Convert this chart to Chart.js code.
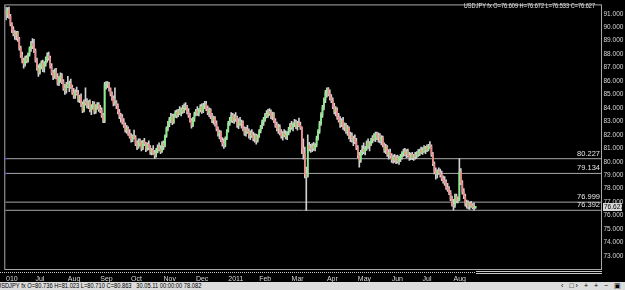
<!DOCTYPE html>
<html>
<head>
<meta charset="utf-8">
<script src="https://cdn.jsdelivr.net/npm/chart.js@4.4.1/dist/chart.umd.min.js"></script>
<style>
  html, body { margin: 0; padding: 0; background: #000; }
  #wrap { position: relative; width: 625px; height: 290px; overflow: hidden; background: #000; }
  #c { position: absolute; left: 0; top: 0; }
  .small { position: absolute; font-family: "Liberation Sans", Arial, sans-serif; font-size: 7px; line-height: 8px; white-space: nowrap; }
  #head { top: 2px; right: 30px; color: #e8e8e8; transform: scaleX(0.8); transform-origin: right top; }
  #status { position: absolute; left: 0; top: 282px; width: 625px; height: 8px; background: #dcdcdc; }
  #statusText { left: -3px; top: 0; color: #000; transform: scaleX(0.82); transform-origin: left top; }
  #btns { right: 2px; top: 0; color: #000; letter-spacing: 2px; }
</style>
</head>
<body>
<div id="wrap">
  <canvas id="c" width="625" height="290"></canvas>
  <div id="head" class="small">USDJPY fx O=76.609 H=76.672 L=76.533 C=76.627</div>
  <div id="status">
    <div id="statusText" class="small">USDJPY fx O=80.736 H=81.023 L=80.710 C=80.863 &nbsp; 30.05.11 00:00:00 78.082</div>
    <div id="btns" class="small">&lsaquo; &#9633;&rsaquo; + + &minus; &#9635;</div>
  </div>
</div>
<script>
// ── Données OHLC journalières ─────────────────────────────────────────
const opens = [
  91.20, 90.95, 91.30, 90.80, 90.25, 89.80, 89.50, 89.40, 89.60, 89.15,
  88.45, 87.90, 87.55, 87.25, 87.70, 87.50, 88.00, 88.45, 88.80, 88.60,
  88.25, 87.55, 86.95, 86.60, 87.15, 87.35, 86.90, 87.30, 87.65, 87.90,
  87.70, 87.10, 86.60, 86.30, 86.75, 86.25, 85.85, 86.20, 86.40, 85.95,
  85.45, 85.30, 85.75, 85.60, 85.85, 85.55, 85.15, 84.90, 85.20, 85.05,
  84.60, 84.80, 84.25, 83.80, 84.50, 84.35, 84.20, 84.45, 83.85, 84.10,
  84.30, 83.75, 84.15, 84.25, 83.90, 83.80, 83.45, 83.00, 85.70, 85.75,
  85.80, 85.40, 85.05, 84.70, 84.35, 84.40, 84.15, 83.70, 83.40, 83.30,
  82.95, 82.70, 82.35, 82.50, 82.05, 81.85, 81.65, 81.90, 81.80, 81.35,
  81.10, 81.55, 81.40, 81.00, 81.50, 81.35, 80.95, 81.30, 81.05, 80.70,
  80.90, 80.65, 80.45, 80.85, 81.10, 80.95, 80.75, 81.35, 81.20, 81.90,
  82.50, 82.80, 83.15, 83.40, 82.95, 83.40, 83.65, 83.45, 83.80, 83.60,
  83.90, 83.75, 84.15, 84.05, 83.70, 83.45, 83.05, 82.70, 83.20, 83.55,
  83.80, 83.60, 83.85, 84.10, 83.75, 84.20, 84.30, 83.95, 83.65, 83.85,
  83.40, 83.05, 83.25, 82.80, 82.45, 82.05, 82.20, 81.60, 81.35, 81.20,
  81.75, 82.30, 82.85, 83.10, 83.45, 83.05, 83.35, 83.20, 82.70, 83.00,
  82.85, 82.95, 82.45, 82.10, 82.40, 82.25, 81.90, 82.15, 81.95, 81.70,
  81.95, 81.55, 81.90, 82.30, 82.60, 82.95, 83.15, 83.50, 83.40, 83.75,
  83.60, 83.35, 83.55, 83.05, 82.70, 82.45, 82.60, 82.15, 81.90, 82.10,
  82.00, 81.85, 82.15, 82.40, 82.75, 82.55, 82.80, 82.95, 82.60, 82.85,
  82.70, 82.55, 81.00, 80.60, 79.10, 78.90, 81.20, 81.00, 80.95, 81.20,
  81.00, 81.25, 81.75, 82.25, 82.85, 83.50, 84.05, 84.60, 85.10, 85.40,
  85.05, 84.75, 84.55, 84.10, 83.70, 83.90, 83.30, 83.10, 82.75, 83.05,
  82.55, 82.70, 82.25, 82.50, 81.85, 81.95, 81.60, 81.70, 81.50, 81.05,
  80.45, 80.10, 80.70, 80.95, 80.75, 81.00, 81.40, 81.15, 81.35, 81.60,
  81.80, 81.70, 82.05, 81.80, 81.95, 81.55, 81.80, 81.25, 80.85, 81.10,
  80.55, 80.70, 80.45, 80.15, 80.35, 80.10, 80.30, 80.05, 80.25, 80.40,
  80.60, 80.75, 80.55, 80.80, 80.45, 80.30, 80.55, 80.30, 80.45, 80.40,
  80.65, 80.55, 80.85, 80.70, 80.95, 80.80, 81.05, 80.90, 81.20, 81.15,
  80.55, 79.85, 79.25, 79.10, 79.30, 79.20, 79.05, 78.75, 78.60, 78.45,
  78.10, 77.95, 77.70, 77.25, 76.80, 76.75, 77.45, 77.10, 77.20, 79.25,
  78.45, 77.80, 77.45, 76.85, 76.95, 76.65, 76.90, 76.75, 76.60, 76.609
];
const highs = [
  91.50, 91.45, 91.50, 90.95, 90.35, 90.05, 89.75, 89.70, 89.70, 89.25,
  88.60, 88.15, 87.70, 87.85, 87.90, 88.10, 88.55, 88.95, 89.15, 89.10,
  88.40, 87.70, 87.20, 87.30, 87.50, 87.55, 87.45, 87.80, 88.10, 88.15,
  87.85, 87.30, 86.80, 86.90, 86.95, 86.55, 86.35, 86.60, 86.55, 86.10,
  85.75, 85.90, 86.35, 86.00, 86.15, 85.70, 85.45, 85.35, 85.55, 85.30,
  84.95, 85.05, 84.45, 84.60, 85.50, 84.70, 84.55, 84.60, 84.25, 84.50,
  84.45, 84.25, 84.40, 84.40, 84.20, 84.00, 83.60, 85.90, 85.95, 85.95,
  85.90, 85.50, 85.20, 84.90, 85.50, 84.55, 84.30, 83.90, 83.60, 83.50,
  83.20, 82.90, 82.70, 82.60, 82.40, 82.10, 82.00, 82.35, 81.95, 81.55,
  81.70, 81.70, 81.55, 81.60, 81.75, 81.45, 81.40, 81.55, 81.20, 81.00,
  81.20, 80.85, 81.00, 81.25, 81.40, 81.20, 81.50, 81.55, 82.00, 82.60,
  83.00, 83.30, 83.60, 83.55, 83.55, 83.80, 83.85, 83.90, 84.10, 84.00,
  84.20, 84.30, 84.40, 84.20, 83.95, 83.60, 83.20, 83.30, 83.70, 83.90,
  84.10, 83.95, 84.25, 84.30, 84.35, 84.50, 84.50, 84.15, 84.00, 83.95,
  83.60, 83.40, 83.35, 83.05, 82.60, 82.35, 82.30, 81.80, 81.70, 81.85,
  82.40, 83.00, 83.30, 83.65, 83.60, 83.50, 83.65, 83.40, 83.20, 83.30,
  83.10, 83.05, 82.60, 82.55, 82.70, 82.45, 82.30, 82.40, 82.20, 82.10,
  82.05, 82.00, 82.40, 82.70, 83.10, 83.30, 83.60, 83.80, 83.90, 83.95,
  83.85, 83.70, 83.65, 83.20, 82.95, 82.80, 82.75, 82.40, 82.25, 82.40,
  82.30, 82.25, 82.55, 82.85, 83.00, 82.90, 83.15, 83.10, 83.00, 83.25,
  82.95, 82.60, 81.70, 81.10, 79.60, 82.00, 81.45, 81.30, 81.35, 81.45,
  81.35, 81.90, 82.40, 83.00, 83.65, 84.20, 84.75, 85.30, 85.50, 85.52,
  85.35, 85.00, 84.75, 84.35, 84.10, 84.00, 83.60, 83.35, 83.20, 83.30,
  82.90, 82.85, 82.70, 82.60, 82.20, 82.15, 81.90, 82.00, 81.75, 81.20,
  80.70, 80.85, 81.20, 81.40, 81.15, 81.55, 81.70, 81.50, 81.75, 81.95,
  82.10, 82.20, 82.20, 82.15, 82.10, 81.95, 81.90, 81.40, 81.30, 81.20,
  80.90, 80.95, 80.60, 80.50, 80.55, 80.45, 80.50, 80.40, 80.55, 80.75,
  80.95, 81.00, 80.90, 80.95, 80.70, 80.65, 80.70, 80.55, 80.70, 80.75,
  80.90, 80.95, 81.10, 81.05, 81.20, 81.15, 81.25, 81.30, 81.50, 81.25,
  80.70, 80.00, 79.55, 79.40, 79.55, 79.45, 79.30, 78.95, 78.90, 78.65,
  78.40, 78.15, 77.85, 77.45, 77.20, 77.60, 77.60, 77.40, 80.23, 79.50,
  78.60, 78.00, 77.60, 77.15, 77.10, 77.00, 77.05, 76.90, 76.95, 76.672
];
const lows = [
  90.55, 90.70, 90.65, 90.10, 89.60, 89.35, 89.10, 89.05, 88.95, 88.30,
  87.75, 87.35, 86.95, 87.10, 87.35, 87.40, 87.85, 88.20, 88.40, 88.10,
  87.40, 86.80, 86.35, 86.50, 86.90, 86.70, 86.65, 87.10, 87.40, 87.55,
  86.95, 86.45, 86.10, 86.20, 86.15, 85.70, 85.65, 85.90, 85.80, 85.30,
  85.00, 85.10, 85.50, 85.20, 85.45, 85.00, 84.70, 84.70, 84.95, 84.45,
  84.40, 84.10, 83.65, 83.70, 84.20, 84.00, 83.95, 83.70, 83.50, 83.90,
  83.55, 83.60, 83.90, 83.75, 83.65, 83.30, 82.90, 82.90, 85.40, 85.50,
  85.25, 84.90, 84.55, 84.15, 84.20, 83.95, 83.55, 83.20, 82.95, 82.80,
  82.55, 82.20, 82.10, 81.95, 81.75, 81.45, 81.50, 81.70, 81.20, 80.90,
  81.00, 81.15, 80.80, 80.90, 81.20, 80.75, 80.85, 80.90, 80.55, 80.50,
  80.55, 80.23, 80.35, 80.65, 80.80, 80.60, 80.70, 80.90, 81.10, 81.80,
  82.30, 82.60, 82.90, 82.75, 82.85, 83.30, 83.25, 83.35, 83.50, 83.40,
  83.60, 83.65, 83.85, 83.55, 83.30, 82.95, 82.50, 82.60, 83.00, 83.40,
  83.45, 83.40, 83.70, 83.60, 83.65, 83.95, 83.80, 83.50, 83.35, 83.20,
  82.90, 82.80, 82.65, 82.30, 81.90, 81.70, 81.50, 81.15, 81.00, 81.10,
  81.65, 82.20, 82.70, 82.95, 82.90, 82.85, 83.00, 82.55, 82.45, 82.70,
  82.50, 82.30, 81.95, 81.90, 82.10, 81.75, 81.65, 81.80, 81.55, 81.45,
  81.30, 81.45, 81.80, 82.15, 82.45, 82.70, 83.00, 83.25, 83.30, 83.45,
  83.20, 83.10, 82.90, 82.55, 82.30, 82.10, 82.00, 81.75, 81.60, 81.85,
  81.70, 81.65, 82.00, 82.20, 82.40, 82.30, 82.60, 82.45, 82.35, 82.60,
  82.40, 80.60, 80.20, 78.80, 76.39, 78.85, 80.80, 80.70, 80.75, 80.85,
  80.80, 81.10, 81.60, 82.10, 82.70, 83.30, 83.85, 84.40, 84.80, 84.90,
  84.60, 84.40, 83.95, 83.55, 83.40, 83.15, 82.95, 82.55, 82.60, 82.40,
  82.30, 82.10, 81.95, 81.70, 81.50, 81.45, 81.20, 81.35, 80.90, 80.30,
  79.60, 79.95, 80.50, 80.60, 80.50, 80.85, 81.00, 80.80, 81.20, 81.40,
  81.55, 81.50, 81.65, 81.45, 81.40, 81.25, 81.10, 80.70, 80.60, 80.40,
  80.20, 80.30, 79.95, 79.90, 79.95, 79.85, 79.90, 79.80, 80.00, 80.20,
  80.40, 80.45, 80.30, 80.35, 80.10, 80.15, 80.15, 80.10, 80.20, 80.25,
  80.40, 80.45, 80.60, 80.55, 80.70, 80.60, 80.75, 80.80, 81.00, 80.40,
  79.70, 79.10, 78.70, 78.80, 79.05, 78.85, 78.60, 78.40, 78.25, 77.95,
  77.80, 77.55, 77.10, 76.70, 76.40, 76.60, 76.95, 76.95, 77.10, 78.30,
  77.60, 77.25, 76.70, 76.55, 76.50, 76.45, 76.60, 76.50, 76.40, 76.533
];
const closes = [
  90.95, 91.30, 90.80, 90.25, 89.80, 89.50, 89.40, 89.60, 89.15, 88.45,
  87.90, 87.55, 87.25, 87.70, 87.50, 88.00, 88.45, 88.80, 88.60, 88.25,
  87.55, 86.95, 86.60, 87.15, 87.35, 86.90, 87.30, 87.65, 87.90, 87.70,
  87.10, 86.60, 86.30, 86.75, 86.25, 85.85, 86.20, 86.40, 85.95, 85.45,
  85.30, 85.75, 85.60, 85.85, 85.55, 85.15, 84.90, 85.20, 85.05, 84.60,
  84.80, 84.25, 83.80, 84.50, 84.35, 84.20, 84.45, 83.85, 84.10, 84.30,
  83.75, 84.15, 84.25, 83.90, 83.80, 83.45, 83.05, 85.70, 85.75, 85.80,
  85.40, 85.05, 84.70, 84.35, 84.40, 84.15, 83.70, 83.40, 83.30, 82.95,
  82.70, 82.35, 82.50, 82.05, 81.85, 81.65, 81.90, 81.80, 81.35, 81.10,
  81.55, 81.40, 81.00, 81.50, 81.35, 80.95, 81.30, 81.05, 80.70, 80.90,
  80.65, 80.45, 80.85, 81.10, 80.95, 80.75, 81.35, 81.20, 81.90, 82.50,
  82.80, 83.15, 83.40, 82.95, 83.40, 83.65, 83.45, 83.80, 83.60, 83.90,
  83.75, 84.15, 84.05, 83.70, 83.45, 83.05, 82.70, 83.20, 83.55, 83.80,
  83.60, 83.85, 84.10, 83.75, 84.20, 84.30, 83.95, 83.65, 83.85, 83.40,
  83.05, 83.25, 82.80, 82.45, 82.05, 82.20, 81.60, 81.35, 81.20, 81.75,
  82.30, 82.85, 83.10, 83.45, 83.05, 83.35, 83.20, 82.70, 83.00, 82.85,
  82.95, 82.45, 82.10, 82.40, 82.25, 81.90, 82.15, 81.95, 81.70, 81.95,
  81.55, 81.90, 82.30, 82.60, 82.95, 83.15, 83.50, 83.40, 83.75, 83.60,
  83.35, 83.55, 83.05, 82.70, 82.45, 82.60, 82.15, 81.90, 82.10, 82.00,
  81.85, 82.15, 82.40, 82.75, 82.55, 82.80, 82.95, 82.60, 82.85, 82.70,
  82.55, 81.00, 80.60, 79.10, 78.90, 81.20, 81.00, 80.95, 81.20, 81.00,
  81.25, 81.75, 82.25, 82.85, 83.50, 84.05, 84.60, 85.10, 85.40, 85.05,
  84.75, 84.55, 84.10, 83.70, 83.90, 83.30, 83.10, 82.75, 83.05, 82.55,
  82.70, 82.25, 82.50, 81.85, 81.95, 81.60, 81.70, 81.50, 81.05, 80.45,
  80.10, 80.70, 80.95, 80.75, 81.00, 81.40, 81.15, 81.35, 81.60, 81.80,
  81.70, 82.05, 81.80, 81.95, 81.55, 81.80, 81.25, 80.85, 81.10, 80.55,
  80.70, 80.45, 80.15, 80.35, 80.10, 80.30, 80.05, 80.25, 80.40, 80.60,
  80.75, 80.55, 80.80, 80.45, 80.30, 80.55, 80.30, 80.45, 80.40, 80.65,
  80.55, 80.85, 80.70, 80.95, 80.80, 81.05, 80.90, 81.20, 81.15, 80.55,
  79.85, 79.25, 79.10, 79.30, 79.20, 79.05, 78.75, 78.60, 78.45, 78.10,
  77.95, 77.70, 77.25, 76.80, 76.75, 77.45, 77.10, 77.20, 79.25, 78.45,
  77.80, 77.45, 76.85, 76.95, 76.65, 76.90, 76.75, 76.60, 76.61, 76.627
];

// Niveaux horizontaux tracés sur le graphique
const levels       = [80.227, 79.134, 76.999, 76.392];
const levelMarked  = [true, true, false, false];

// Axe des prix et axe du temps
const priceTicks  = [73, 74, 75, 76, 77, 78, 79, 80, 81, 82, 83, 84, 85, 86, 87, 88, 89, 90, 91];
const monthIdx    = [0, 20, 42, 64, 85, 107, 129, 151, 172, 194, 218, 239, 262, 283, 304];
const monthLabels = ["010", "Jul", "Aug", "Sep", "Oct", "Nov", "Dec", "2011", "Feb", "Mar", "Apr", "May", "Jun", "Jul", "Aug"];

const X_MIN = -0.5, X_MAX = 404.9;
const Y_MIN = 72.03, Y_MAX = 91.62;

const UP_COLOR   = "#86f086";
const DOWN_COLOR = "#f08a8a";
const WICK_COLOR = "#d0d0d0";
const LINE_COLOR = "#a8a8a8";
const FONT = "Liberation Sans";

const N = closes.length;
const lastPrice = closes[N - 1];

// ── Datasets ──────────────────────────────────────────────────────────
const wickData = lows.map((l, i) => ({ x: i, y: [l, highs[i]] }));
const bodyData = opens.map((o, i) => ({ x: i, y: [o, closes[i]] }));
const bodyColors = opens.map((o, i) => (closes[i] >= o ? UP_COLOR : DOWN_COLOR));

const levelSets = levels.map((lv, k) => ({
  type: "line",
  data: [{ x: X_MIN, y: lv }, { x: X_MAX, y: lv }],
  borderColor: LINE_COLOR,
  borderWidth: 1,
  pointRadius: levelMarked[k] ? 1.5 : 0,
  pointStyle: "rect",
  pointBackgroundColor: "#1a1aff",
  pointBorderWidth: 0,
  order: 3,
}));

// ── Habillage (cadre, libellés des niveaux, prix courant, barre de défilement)
const chrome = {
  id: "chrome",
  afterDraw(chart) {
    const { ctx, chartArea: a, scales } = chart;
    const y = scales.y, x = scales.x;
    ctx.save();

    ctx.strokeStyle = LINE_COLOR;
    ctx.lineWidth = 1;
    ctx.strokeRect(a.left - 0.5, a.top - 0.5, a.right - a.left, a.bottom - a.top + 1);

    // libellés des niveaux
    ctx.font = `7.5px "${FONT}"`;
    ctx.fillStyle = "#e6e6e6";
    ctx.textAlign = "right";
    ctx.textBaseline = "bottom";
    levels.forEach((lv) => {
      const py = Math.round(y.getPixelForValue(lv));
      ctx.fillText(lv.toFixed(3), a.right - 2, py - 1);
    });

    // prix courant
    const pp = Math.round(y.getPixelForValue(lastPrice));
    ctx.fillStyle = "#d6d6d6";
    ctx.fillRect(a.right + 1, pp - 4, 19, 8);
    ctx.fillStyle = "#000";
    ctx.textAlign = "left";
    ctx.textBaseline = "middle";
    ctx.font = `6.5px "${FONT}"`;
    ctx.fillText(lastPrice.toFixed(3), a.right + 2, pp + 0.5);

    // barre de défilement sous l'axe
    const endX = Math.round(x.getPixelForValue(N - 0.5));
    ctx.strokeStyle = "#c8c8c8";
    ctx.setLineDash([1, 1]);
    ctx.beginPath();
    ctx.moveTo(0, 272.5); ctx.lineTo(endX, 272.5);
    ctx.stroke();
    ctx.setLineDash([]);
    ctx.beginPath();
    ctx.moveTo(endX, 271.5); ctx.lineTo(a.right, 271.5);
    ctx.moveTo(endX, 273.5); ctx.lineTo(a.right, 273.5);
    ctx.stroke();

    ctx.restore();
  },
};

new Chart(document.getElementById("c"), {
  type: "bar",
  data: {
    datasets: [
      {
        data: bodyData,
        backgroundColor: bodyColors,
        barThickness: 1,
        minBarLength: 1,
        grouped: false,
        borderWidth: 0,
        order: 1,
      },
      {
        data: wickData,
        backgroundColor: WICK_COLOR,
        barThickness: 1,
        grouped: false,
        borderWidth: 0,
        order: 2,
      },
      ...levelSets,
    ],
  },
  options: {
    responsive: false,
    animation: false,
    devicePixelRatio: 1,
    layout: { padding: { left: 2, top: 1, right: 0, bottom: 0 } },
    plugins: { legend: { display: false }, tooltip: { enabled: false } },
    scales: {
      x: {
        type: "linear",
        min: X_MIN,
        max: X_MAX,
        offset: false,
        grid: { display: false, drawTicks: false },
        border: { display: false },
        afterBuildTicks: (s) => { s.ticks = monthIdx.map((v) => ({ value: v })); },
        afterFit: (s) => { s.height = 21; },
        ticks: {
          autoSkip: false,
          maxRotation: 0,
          minRotation: 0,
          align: "start",
          padding: 6,
          color: "#d8d8d8",
          font: { family: FONT, size: 7 },
          callback: (v) => monthLabels[monthIdx.indexOf(v)],
        },
      },
      y: {
        type: "linear",
        position: "right",
        min: Y_MIN,
        max: Y_MAX,
        grid: { display: false, drawTicks: false },
        border: { display: false },
        afterBuildTicks: (s) => { s.ticks = priceTicks.map((v) => ({ value: v })); },
        afterFit: (s) => { s.width = 23; },
        ticks: {
          padding: 1.5,
          color: "#d8d8d8",
          font: { family: FONT, size: 6.5 },
          callback: (v) => v.toFixed(3),
        },
      },
    },
  },
  plugins: [chrome],
});
</script>
</body>
</html>
